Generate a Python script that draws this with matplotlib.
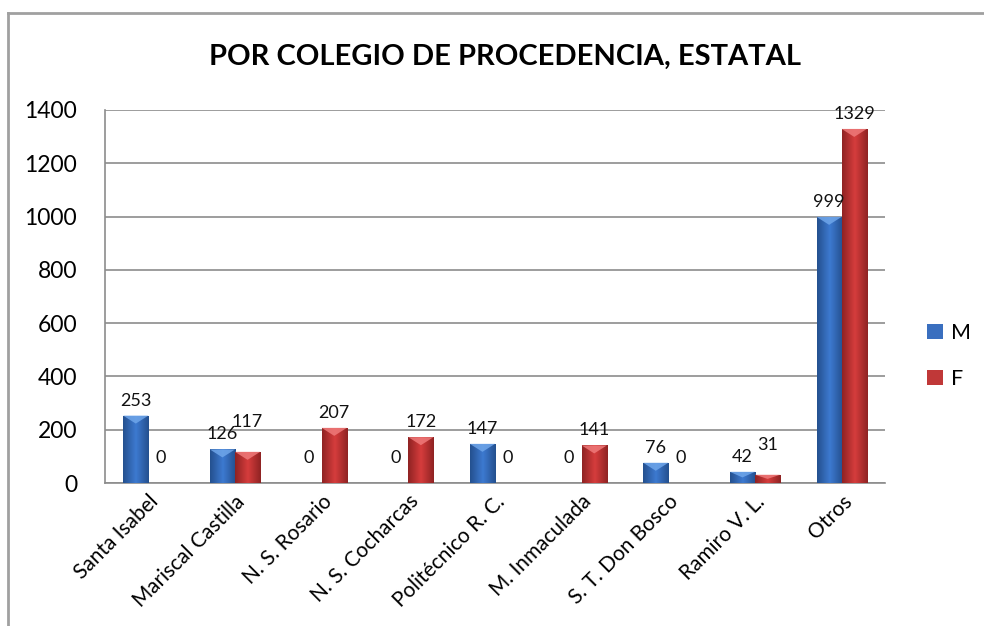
import numpy as np
import matplotlib
matplotlib.use("Agg")
import matplotlib.pyplot as plt
from matplotlib.colors import LinearSegmentedColormap
from matplotlib.patches import Patch, Polygon
from matplotlib.lines import Line2D

plt.rcParams['font.family'] = ['Lato', 'DejaVu Sans']

# datos
colegios = ['Santa Isabel', 'Mariscal Castilla', 'N. S. Rosario', 'N. S. Cocharcas',
            'Politécnico R. C.', 'M. Inmaculada', 'S. T. Don Bosco', 'Ramiro V. L.', 'Otros']
masculino = [253, 126, 0, 0, 147, 0, 76, 42, 999]
femenino = [0, 117, 207, 172, 0, 141, 0, 31, 1329]
titulo = 'POR COLEGIO DE PROCEDENCIA, ESTATAL'
yticks = [0, 200, 400, 600, 800, 1000, 1200, 1400]

fig = plt.figure(figsize=(9.84, 6.26), dpi=100)
ax = fig.add_axes([105/984, 1 - 483/626, 780/984, 373/626])

x = np.arange(len(colegios))
w = 0.29

series = [
    (masculino, -w/2, ['#24508f', '#3d7ad0', '#24508f'], '#6fa6ea', '#3a6fbf', 'M'),
    (femenino, w/2, ['#8f2323', '#d63d3d', '#8f2323'], '#ef7a7a', '#c03838', 'F'),
]

grad = np.linspace(0, 1, 64).reshape(1, -1)
handles = []
for k, (vals, off, cols, light, base, name) in enumerate(series):
    cmap = LinearSegmentedColormap.from_list(name, cols)
    bars = ax.bar(x + off, vals, w, color=base, zorder=2)
    for i, (b, v) in enumerate(zip(bars, vals)):
        x0 = b.get_x()
        x1 = x0 + b.get_width()
        if v > 0:
            im = ax.imshow(grad, cmap=cmap, extent=(x0, x1, 0, v), aspect='auto', zorder=3)
            im.set_clip_path(b)
            d = min(30, v / 2)
            tri = Polygon([(x0, v), (x1, v), ((x0 + x1) / 2, v - d)], closed=True,
                          facecolor=light, edgecolor='none', alpha=0.85, zorder=4)
            ax.add_patch(tri)
        dy = 5 if v > 0 else 12
        # etiquetas cercanas: subir la segunda serie
        m, f = masculino[i], femenino[i]
        if k == 1 and m > 0 and f > 0 and abs(m - f) < 100:
            dy += 11
        ax.annotate(str(v), (x0 + b.get_width() / 2, v), xytext=(0, dy),
                    textcoords='offset points', ha='center', va='bottom',
                    fontsize=13, color='#111111', zorder=5)
    handles.append(Patch(facecolor=base, edgecolor='none', label=name))

ax.set_xlim(-0.5, len(colegios) - 0.5)
ax.set_ylim(0, 1400)
ax.set_yticks(yticks)
ax.set_yticklabels([str(t) for t in yticks], fontsize=16.5)
ax.set_xticks(x)
ax.set_xticklabels(colegios, rotation=45, ha='right', rotation_mode='anchor', fontsize=15)
ax.tick_params(axis='both', length=0)
ax.tick_params(axis='y', pad=20)
ax.tick_params(axis='x', pad=6)
ax.grid(axis='y', color='#8c8c8c', linewidth=1.2, zorder=0)
ax.set_axisbelow(True)
for s in ['top', 'right']:
    ax.spines[s].set_visible(False)
for s in ['left', 'bottom']:
    ax.spines[s].set_color('#8c8c8c')
    ax.spines[s].set_linewidth(1.2)

fig.text(505/984, 1 - 57/626, titulo, ha='center', va='center', fontsize=21, fontweight='bold')

fig.legend(handles=handles, loc='center left', bbox_to_anchor=(927/984, 1 - 356/626),
           frameon=False, fontsize=15.5, handlelength=0.75, handleheight=0.75,
           handletextpad=0.35, labelspacing=1.2, borderpad=0, borderaxespad=0)

# borde del grafico
fig.add_artist(Line2D([8/984, 8/984], [1 - 13/626, 0], color='#a0a0a0', linewidth=2))
fig.add_artist(Line2D([8/984, 1], [1 - 13/626, 1 - 13/626], color='#a0a0a0', linewidth=2))

fig.savefig('out.png', dpi=100)
